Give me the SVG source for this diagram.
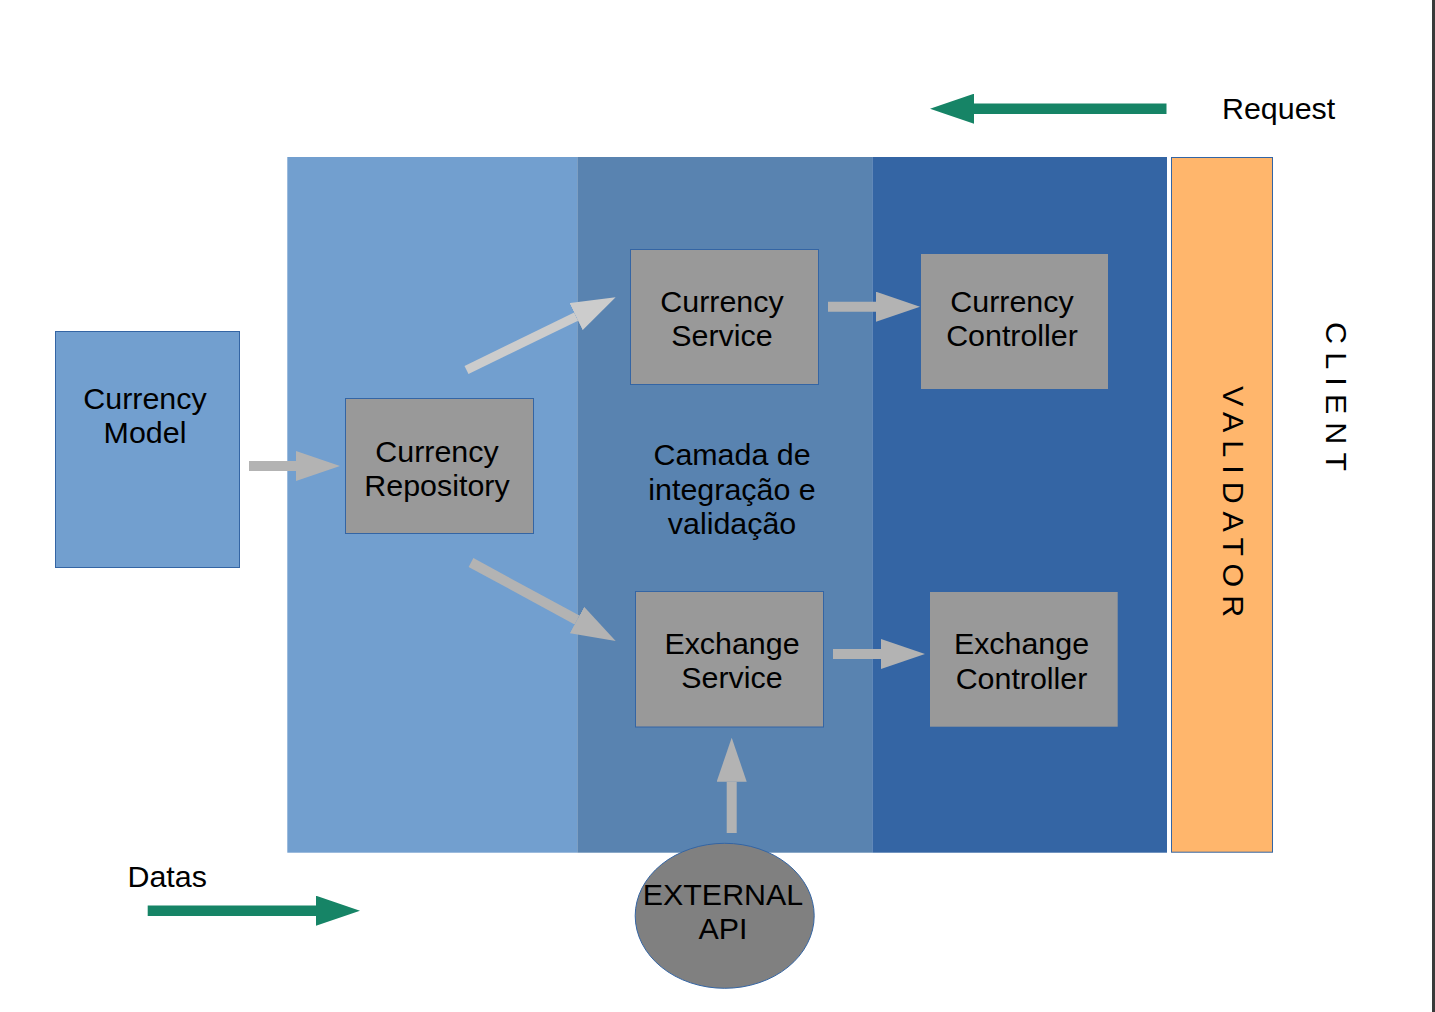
<svg xmlns="http://www.w3.org/2000/svg" width="1435" height="1012" viewBox="0 0 1435 1012">
  <style>
    text { font-family: "Liberation Sans", Arial, sans-serif; font-size: 30.4px; fill: #000; }
    .c { text-anchor: middle; }
    .box { fill: #999999; stroke: #3465a4; stroke-width: 1; }
    .boxn { fill: #999999; }
    .g1 { stroke: #b3b3b3; stroke-width: 10; fill: none; marker-end: url(#hGray); }
    .g2 { stroke: #cccccc; stroke-width: 9; fill: none; marker-end: url(#hLight); }
    .gr { stroke: #168466; stroke-width: 10.5; fill: none; marker-end: url(#hGreen); }
    .vt { letter-spacing: 8px; }
  </style>
  <defs>
    <marker id="hGray" viewBox="0 0 44 30" markerWidth="44" markerHeight="30" refX="0" refY="15" orient="auto" markerUnits="userSpaceOnUse">
      <path d="M0,0 L44,15 L0,30 Z" fill="#b3b3b3"/>
    </marker>
    <marker id="hLight" viewBox="0 0 44 30" markerWidth="44" markerHeight="30" refX="0" refY="15" orient="auto" markerUnits="userSpaceOnUse">
      <path d="M0,0 L44,15 L0,30 Z" fill="#cccccc"/>
    </marker>
    <marker id="hGreen" viewBox="0 0 44 30" markerWidth="44" markerHeight="30" refX="0" refY="15" orient="auto" markerUnits="userSpaceOnUse">
      <path d="M0,0 L44,15 L0,30 Z" fill="#168466"/>
    </marker>
  </defs>

  <rect x="0" y="0" width="1435" height="1012" fill="#ffffff"/>
  <rect x="1432" y="0" width="3" height="1012" fill="#3a3a3a"/>

  <g id="layers">
    <rect x="287.3" y="157" width="290" height="695.7" fill="#729fcf"/>
    <rect x="577.3" y="157" width="295" height="695.7" fill="#5983b0"/>
    <rect x="872.3" y="157" width="294.7" height="695.7" fill="#3465a4"/>
    <text class="c" x="732" y="465">Camada de</text>
    <text class="c" x="732" y="499.5">integração e</text>
    <text class="c" x="732" y="534">validação</text>
  </g>

  <g id="validator">
    <rect x="1171.5" y="157.5" width="101" height="694.7" fill="#ffb66c" stroke="#3465a4" stroke-width="1"/>
    <text class="vt" transform="translate(1222.5,386) rotate(90)" x="0" y="0">VALIDATOR</text>
  </g>

  <g id="client">
    <text class="vt" transform="translate(1325.5,322) rotate(90)" x="0" y="0" style="letter-spacing:8.2px">CLIENT</text>
  </g>

  <g id="currency-model">
    <rect x="55.5" y="331.5" width="184" height="236" fill="#729fcf" stroke="#3465a4" stroke-width="1"/>
    <text class="c" x="145" y="409.3">Currency</text>
    <text class="c" x="145" y="443.3">Model</text>
  </g>

  <g id="currency-repository">
    <rect class="box" x="345.5" y="398.5" width="188" height="135"/>
    <text class="c" x="437" y="462">Currency</text>
    <text class="c" x="437" y="496">Repository</text>
  </g>

  <g id="currency-service">
    <rect class="box" x="630.5" y="249.5" width="188" height="135"/>
    <text class="c" x="722" y="311.7">Currency</text>
    <text class="c" x="722" y="345.7">Service</text>
  </g>

  <g id="currency-controller">
    <rect class="boxn" x="921" y="254" width="187" height="135"/>
    <text class="c" x="1012" y="311.7">Currency</text>
    <text class="c" x="1012" y="345.7">Controller</text>
  </g>

  <g id="exchange-service">
    <rect class="box" x="635.5" y="591.5" width="188" height="135.5"/>
    <text class="c" x="732" y="654">Exchange</text>
    <text class="c" x="732" y="688.3">Service</text>
  </g>

  <g id="exchange-controller">
    <rect class="boxn" x="930" y="592" width="187.7" height="134.7"/>
    <text class="c" x="1021.5" y="654">Exchange</text>
    <text class="c" x="1021.5" y="688.5">Controller</text>
  </g>

  <g id="external-api">
    <ellipse cx="724.7" cy="915.8" rx="89.5" ry="72.5" fill="#808080" stroke="#3465a4" stroke-width="1"/>
    <text class="c" x="723" y="905">EXTERNAL</text>
    <text class="c" x="723" y="939">API</text>
  </g>

  <g id="legend">
    <text x="1222" y="119">Request</text>
    <text x="127.5" y="886.7">Datas</text>
  </g>

  <g id="connectors">
    <line class="g1" x1="249" y1="466" x2="296" y2="466"/>
    <line class="g2" x1="466.5" y1="370" x2="576.1" y2="316.6"/>
    <line class="g1" x1="471" y1="562.5" x2="577" y2="620"/>
    <line class="g1" x1="828" y1="306.7" x2="876" y2="306.7"/>
    <line class="g1" x1="833" y1="654" x2="881" y2="654"/>
    <line class="g1" x1="731.7" y1="833" x2="731.7" y2="781.7"/>
    <line class="gr" x1="1166.5" y1="108.7" x2="974" y2="108.7"/>
    <line class="gr" x1="147.7" y1="910.7" x2="316" y2="910.7"/>
  </g>
</svg>
